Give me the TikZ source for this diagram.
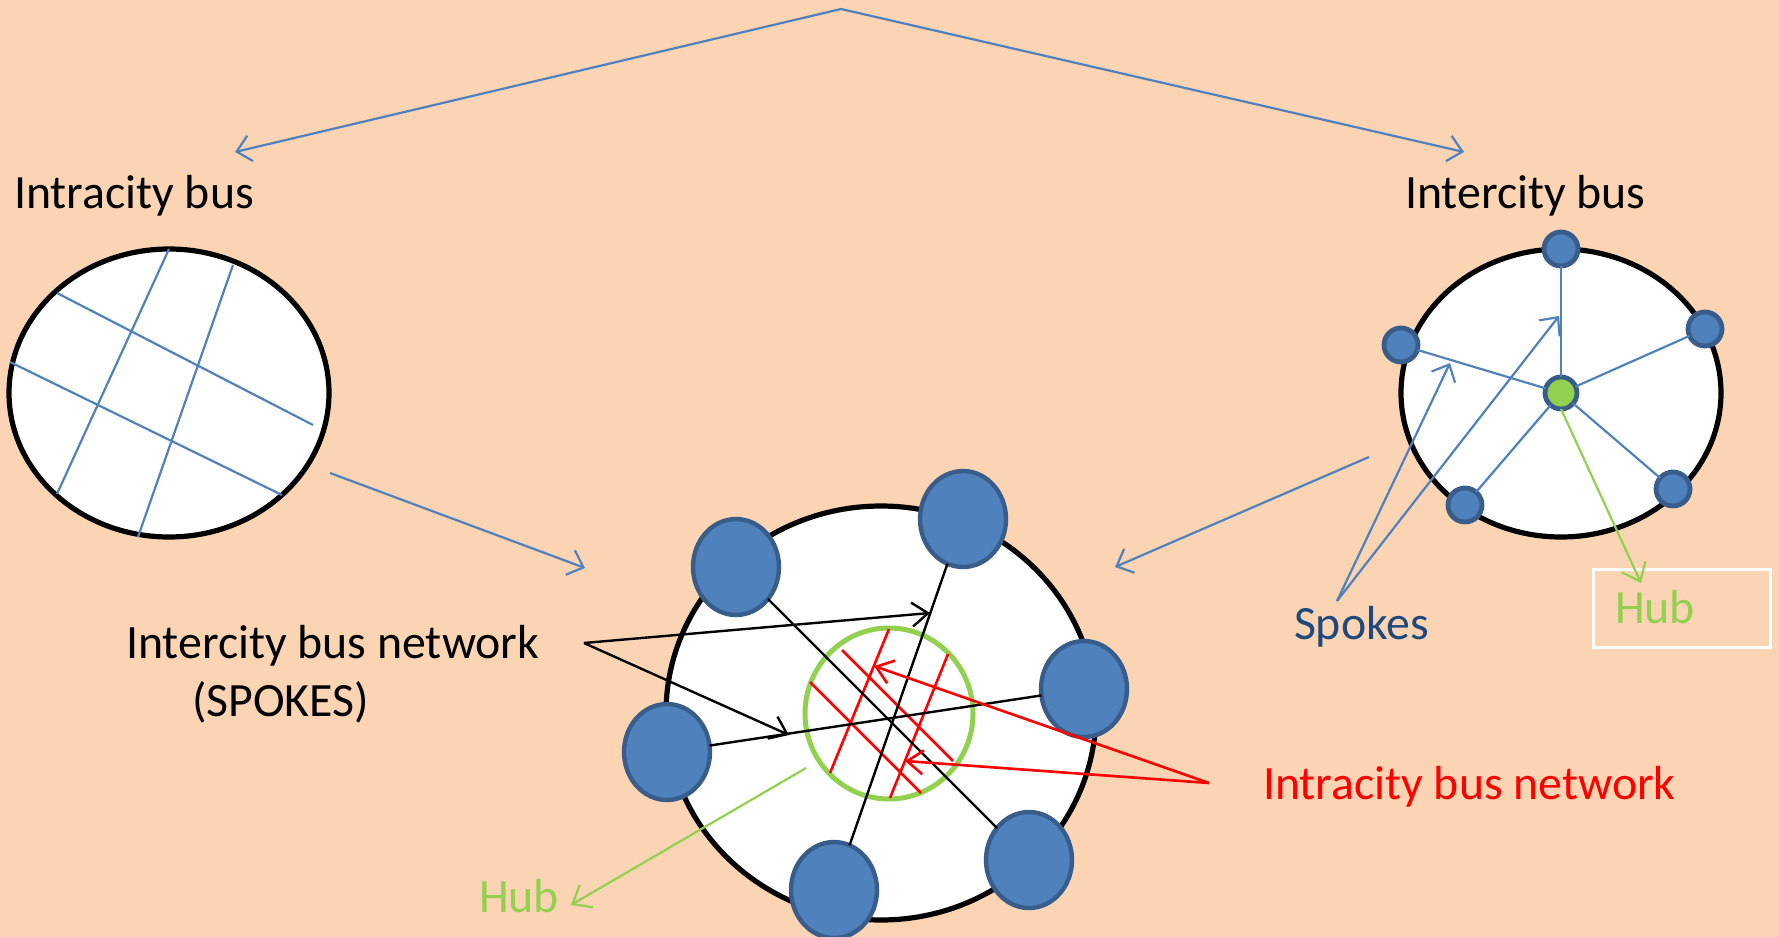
\documentclass[tikz,border=0pt]{standalone}
\usepackage{fontspec}
\setmainfont{Carlito}
\usetikzlibrary{arrows.meta,shapes.geometric}
\definecolor{bg}{HTML}{FBD4B4}
\definecolor{nodeblue}{HTML}{4F81BD}
\definecolor{nodeedge}{HTML}{385D8A}
\definecolor{hubgreen}{HTML}{92D050}
\definecolor{spokeblue}{HTML}{1F497D}
\tikzset{
  bigoval/.style={ellipse,draw=black,fill=white,line width=2.6pt,inner sep=0,outer sep=0},
  bignode/.style={ellipse,draw=nodeedge,fill=nodeblue,line width=2.2pt,minimum width=43pt,minimum height=48pt,inner sep=0,outer sep=0},
  smallnode/.style={circle,draw=nodeedge,fill=nodeblue,line width=2.4pt,minimum size=17pt,inner sep=0,outer sep=0},
  hubnode/.style={circle,draw=nodeedge,fill=hubgreen,line width=2.4pt,minimum size=16pt,inner sep=0,outer sep=0},
  lbl/.style={anchor=base west,inner sep=0,outer sep=0,font=\fontsize{23.9}{28}\selectfont},
  bluearrow/.style={draw=nodeblue,line width=1.1pt,-{Straight Barb[length=7pt,width=13pt]}},
  blueline/.style={draw=nodeblue,line width=1.1pt},
  blackarrow/.style={draw=black,line width=1.2pt,-{Straight Barb[length=8pt,width=12pt]}},
  redarrow/.style={draw=red,line width=1.3pt,-{Straight Barb[length=8pt,width=12pt]}},
  redline/.style={draw=red,line width=1.3pt},
  greenarrow/.style={draw=hubgreen,line width=1.1pt,-{Straight Barb[length=8pt,width=13pt]}},
}
\begin{document}
\begin{tikzpicture}[x=0.5pt,y=-0.5pt]
\fill[bg] (0,0) rectangle (1779,937);
\useasboundingbox (0,0) rectangle (1779,937);

% top arrows
\coordinate (apex) at (841,9);
\coordinate (ltip) at (235,152);
\coordinate (rtip) at (1464,152);
\draw[bluearrow] (apex) -- (ltip);
\draw[bluearrow] (apex) -- (rtip);

% titles
\node[lbl] (tintra) at (14,208) {Intracity bus};
\node[lbl] (tinter) at (1405,208) {Intercity bus};

% left ellipse (intracity)
\node[bigoval,minimum width=160pt,minimum height=144pt] (lov) at (169,393) {};
\coordinate (l1a) at (57,293);  \coordinate (l1b) at (313,425);
\coordinate (l2a) at (10,362);  \coordinate (l2b) at (282,495);
\coordinate (l3a) at (169,249); \coordinate (l3b) at (57,494);
\coordinate (l4a) at (233,265); \coordinate (l4b) at (138,537);
\draw[blueline] (l1a) -- (l1b);
\draw[blueline] (l2a) -- (l2b);
\draw[blueline] (l3a) -- (l3b);
\draw[blueline] (l4a) -- (l4b);

% right ellipse (intercity)
\node[bigoval,minimum width=160pt,minimum height=144pt] (rov) at (1561,393) {};
\node[hubnode] (rhub) at (1561,393) {};
\node[smallnode] (rn1) at (1561,249) {};
\node[smallnode] (rn2) at (1401,345) {};
\node[smallnode] (rn3) at (1705,329) {};
\node[smallnode] (rn4) at (1465,505) {};
\node[smallnode] (rn5) at (1673,489) {};
\foreach \n in {rn1,rn2,rn3,rn4,rn5} \draw[blueline] (rhub) -- (\n);

% spokes label
\node[lbl,text=spokeblue] (tspokes) at (1294,639) {Spokes};
\coordinate (sp0) at (1337,601);
\coordinate (sp1) at (1450,363);
\coordinate (sp2) at (1559,316);
\draw[bluearrow] (sp0) -- (sp1);
\draw[bluearrow] (sp0) -- (sp2);

% hub label box (right)
\draw[white,line width=1.5pt] (1593,569) rectangle (1770,647);
\node[lbl,text=hubgreen] (thubr) at (1615,623) {Hub};
\coordinate (hubtip) at (1641,583);
\draw[greenarrow] (rhub.south) -- (hubtip);

% arrows to centre
\coordinate (la0) at (330,473); \coordinate (la1) at (585,568);
\coordinate (ra0) at (1369,457); \coordinate (ra1) at (1115,567);
\draw[bluearrow] (la0) -- (la1);
\draw[bluearrow] (ra0) -- (ra1);

% centre ellipse
\node[bigoval,minimum width=215pt,minimum height=207pt] (cov) at (881,713) {};
\node[ellipse,draw=hubgreen,line width=2.5pt,minimum width=84pt,minimum height=85.5pt,inner sep=0] (chub) at (889,713.5) {};

% red intracity lines
\coordinate (r1a) at (889,629); \coordinate (r1b) at (830,773);
\coordinate (r2a) at (948,654); \coordinate (r2b) at (890,798);
\coordinate (r3a) at (842,650); \coordinate (r3b) at (953,761);
\coordinate (r4a) at (810,682); \coordinate (r4b) at (921,793);
\draw[redline] (r1a) -- (r1b);
\draw[redline] (r2a) -- (r2b);
\draw[redline] (r3a) -- (r3b);
\draw[redline] (r4a) -- (r4b);

% big nodes
\node[bignode] (cn1) at (736,567) {};
\node[bignode] (cn2) at (963,519) {};
\node[bignode] (cn3) at (1084,689) {};
\node[bignode] (cn4) at (667,752) {};
\node[bignode] (cn5) at (1029,860) {};
\node[bignode] (cn6) at (834,890) {};
\draw[black,line width=1.2pt] (cn1) -- (cn5);
\draw[black,line width=1.2pt] (cn2) -- (cn6);
\draw[black,line width=1.2pt] (cn4) -- (cn3);

% spokes label (centre)
\node[lbl] (tspk1) at (126,658) {Intercity bus network};
\node[lbl] (tspk2) at (192,716) {(SPOKES)};
\coordinate (bj) at (584,643);
\coordinate (bt1) at (930,613);
\coordinate (bt2) at (789,735);
\draw[blackarrow] (bj) -- (bt1);
\draw[blackarrow] (bj) -- (bt2);

% red label
\node[lbl,text=red] (tred) at (1263,799) {Intracity bus network};
\coordinate (rj) at (1209,783);
\coordinate (rt1) at (874,666);
\coordinate (rt2) at (905,761);
\draw[redarrow] (rj) -- (rt1);
\draw[redarrow] (rj) -- (rt2);

% hub label (bottom)
\node[lbl,text=hubgreen] (thubc) at (479,912) {Hub};
\coordinate (gh0) at (806,768);
\coordinate (gh1) at (571,905);
\draw[greenarrow] (gh0) -- (gh1);
\end{tikzpicture}
\end{document}
